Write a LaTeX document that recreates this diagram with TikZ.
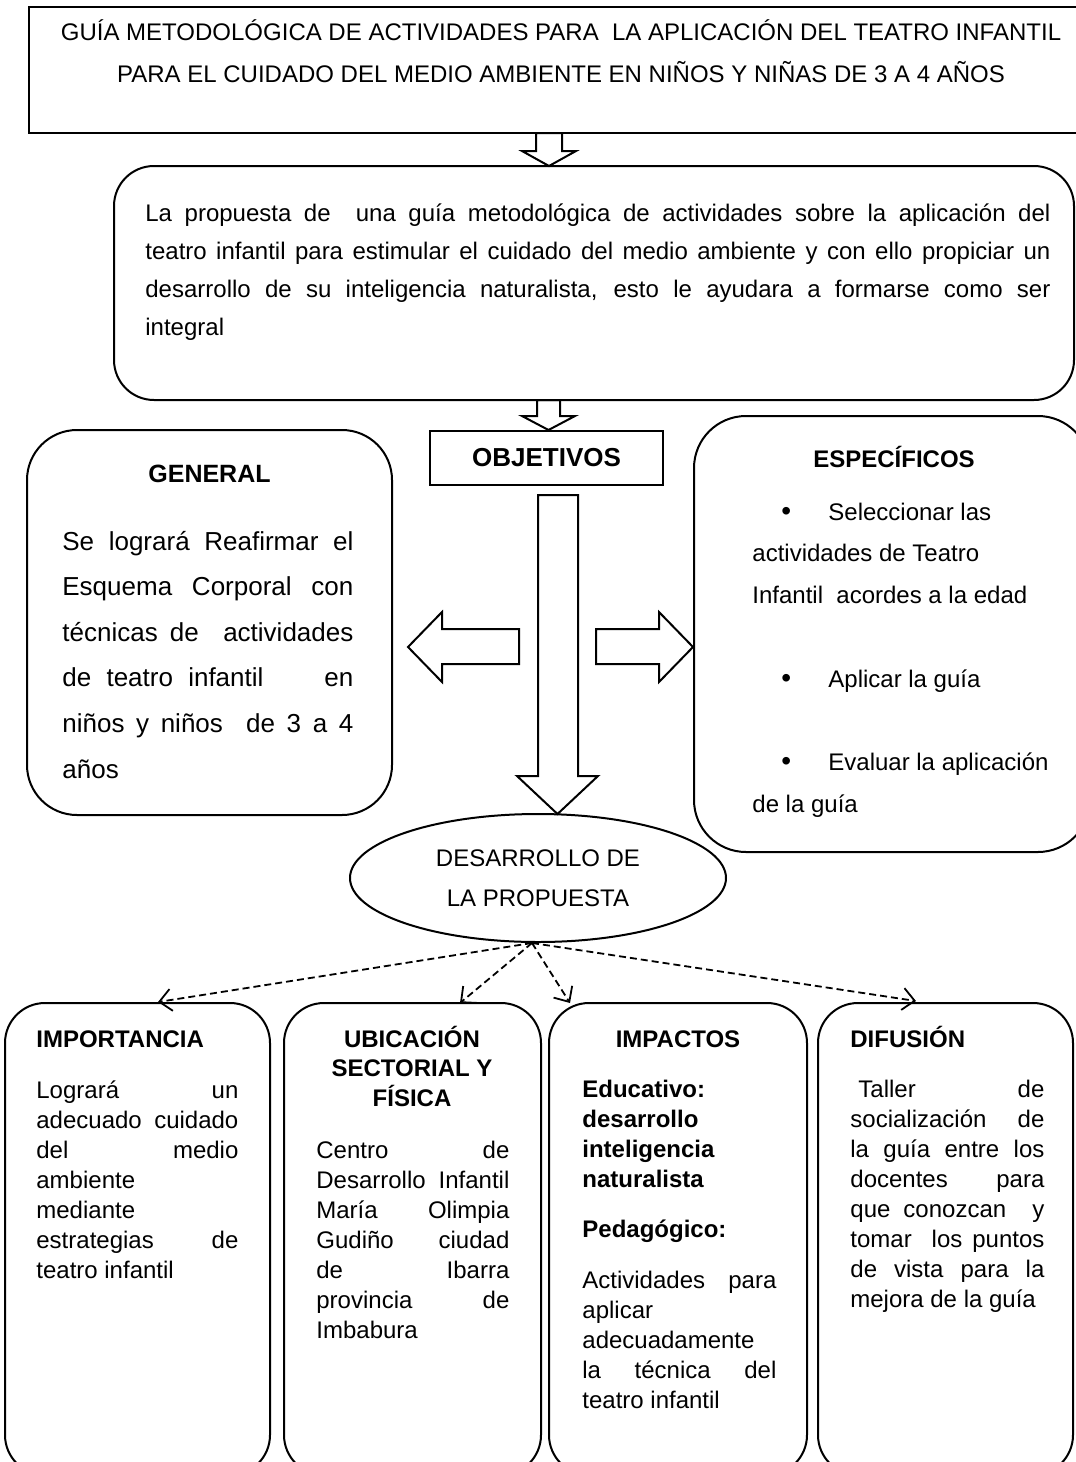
\documentclass[tikz,border=0pt]{standalone}
\usepackage{fontspec}
\setmainfont{Liberation Sans}
\usetikzlibrary{shapes.geometric,arrows.meta}
\newcommand\natsp{\spaceskip=\fontdimen2\font\relax\xspaceskip=\fontdimen2\font\relax}
\newcommand\jl[2]{\makebox[#1][s]{\spaceskip=0.278em plus 1fil\relax #2}}
\begin{document}
\begin{tikzpicture}[x=0.5pt,y=-0.5pt,
  box/.style={draw, line width=1pt, inner sep=0pt},
  rbox/.style={box, rounded corners=#1},
  blk/.style={draw, line width=1pt, line join=miter},
  txt/.style={anchor=base west, inner sep=0pt, align=left, font=\fontsize{12}{15}\selectfont},
  hd/.style={anchor=base, inner sep=0pt, font=\fontsize{12}{15}\selectfont\bfseries},
  dasharrow/.style={line width=0.9pt, dash pattern=on 3.5pt off 2pt, -{Straight Barb[length=6pt,width=11pt]}}]
\useasboundingbox (0,0) rectangle (1076,1462);
\clip (0,0) rectangle (1076,1462);

% ---------- title ----------
\node[box, line width=1.2pt, minimum width=535.5pt, minimum height=63pt] (title) at (564.5,70) {};
\node[anchor=base, inner sep=0pt, text width=525pt, align=center, font=\fontsize{12}{21}\selectfont] (titletxt) at (561,40)
  {\natsp GUÍA METODOLÓGICA DE ACTIVIDADES PARA\ \ LA APLICACIÓN DEL TEATRO INFANTIL\\
   PARA EL CUIDADO DEL MEDIO AMBIENTE EN NIÑOS Y NIÑAS DE 3 A 4 AÑOS};

% ---------- proposal ----------
\node[rbox=20pt, minimum width=480pt, minimum height=117pt] (prop) at (594,283) {};
\node[txt, text width=452.5pt, font=\fontsize{12}{19}\selectfont] (proptxt) at (145,221)
  {\natsp\jl{452.5pt}{La propuesta de\ \ una guía metodológica de actividades sobre la aplicación del}\\
   \jl{452.5pt}{teatro infantil para estimular el cuidado del medio ambiente y con ello propiciar un}\\
   \jl{452.5pt}{desarrollo de su inteligencia naturalista, esto le ayudara a formarse como ser}\\
   integral};

% ---------- block arrows ----------
\draw[blk] (536,133) -- (562,133) -- (562,151) -- (576,151) -- (549,166) -- (522,151) -- (536,151) -- cycle;
\draw[blk] (537,400) -- (560,400) -- (560,416) -- (575,416) -- (548.5,430) -- (522,416) -- (537,416) -- cycle;

% ---------- objetivos ----------
\node[box, minimum width=116.5pt, minimum height=27pt, font=\fontsize{13}{15}\selectfont\bfseries] (obj) at (546.5,458) {OBJETIVOS};

\draw[blk] (538,495) -- (578,495) -- (578,776) -- (598,776) -- (557.5,814) -- (517,776) -- (538,776) -- cycle;
\draw[blk] (519,629) -- (519,664) -- (442,664) -- (442,682) -- (408,647) -- (442,612) -- (442,629) -- cycle;
\draw[blk] (596,629) -- (596,664) -- (659,664) -- (659,682) -- (693,647) -- (659,612) -- (659,629) -- cycle;

% ---------- general ----------
\node[rbox=25pt, minimum width=182.5pt, minimum height=192.5pt] (gen) at (209.5,622.5) {};
\node[hd, font=\fontsize{12.5}{15}\selectfont\bfseries] (genh) at (209.5,482) {GENERAL};
\node[txt, text width=145.5pt, font=\fontsize{13}{22.8}\selectfont] (gentxt) at (62,550)
  {\natsp\jl{145.5pt}{Se logrará Reafirmar el}\\
   \jl{145.5pt}{Esquema Corporal con}\\
   \jl{145.5pt}{técnicas de\ \ actividades}\\
   \jl{145.5pt}{de teatro infantil\ \ \ \ en}\\
   \jl{145.5pt}{niños y niños\ \ de 3 a 4}\\
   años};

% ---------- especificos ----------
\node[rbox=26pt, minimum width=198pt, minimum height=218pt] (esp) at (892,634) {};
\node[hd] (esph) at (894,467) {ESPECÍFICOS};
\node[txt, text width=160pt, font=\fontsize{12}{20.9}\selectfont] (esptxt) at (752,520)
  {\natsp\makebox[38pt][l]{\hspace*{14.5pt}{\fontsize{14}{15}\selectfont\textbullet}}Seleccionar las\\
   actividades de Teatro\\
   Infantil\ \ acordes a la edad\\[20.9pt]
   \makebox[38pt][l]{\hspace*{14.5pt}{\fontsize{14}{15}\selectfont\textbullet}}Aplicar la guía\\[20.9pt]
   \makebox[38pt][l]{\hspace*{14.5pt}{\fontsize{14}{15}\selectfont\textbullet}}Evaluar la aplicación\\
   de la guía};

% ---------- ellipse ----------
\node[draw, ellipse, line width=1pt, minimum width=188pt, minimum height=64pt, inner sep=0pt,
      align=center, font=\fontsize{12}{20}\selectfont] (ell) at (538,878) {\natsp DESARROLLO DE\\LA PROPUESTA};

% ---------- bottom boxes ----------
\node[rbox=20pt, minimum width=132.5pt, minimum height=236pt] (b1) at (137.5,1239) {};
\node[rbox=20pt, minimum width=128.5pt, minimum height=236pt] (b2) at (412.5,1239) {};
\node[rbox=20pt, minimum width=129pt, minimum height=236pt] (b3) at (678,1239) {};
\node[rbox=20pt, minimum width=127.5pt, minimum height=236pt] (b4) at (945.5,1239) {};

\node[hd, anchor=base west] (b1h) at (36,1047) {IMPORTANCIA};
\node[txt, text width=101pt] (b1t) at (36,1098)
  {\natsp\jl{101pt}{Logrará un}\\
   \jl{101pt}{adecuado cuidado}\\
   \jl{101pt}{del medio}\\
   ambiente\\
   mediante\\
   \jl{101pt}{estrategias de}\\
   teatro infantil};

\node[hd, text width=120pt, align=center, font=\fontsize{12}{14.8}\selectfont\bfseries] (b2h) at (412,1047)
  {\natsp UBICACIÓN\\SECTORIAL Y\\FÍSICA};
\node[txt, text width=96.5pt] (b2t) at (316,1158)
  {\natsp\jl{96.5pt}{Centro de}\\
   \jl{96.5pt}{Desarrollo Infantil}\\
   \jl{96.5pt}{María Olimpia}\\
   \jl{96.5pt}{Gudiño ciudad}\\
   \jl{96.5pt}{de Ibarra}\\
   \jl{96.5pt}{provincia de}\\
   Imbabura};

\node[hd] (b3h) at (678,1047) {IMPACTOS};
\node[txt, text width=97pt] (b3t) at (582,1097)
  {\natsp\textbf{Educativo:}\\
   \textbf{desarrollo}\\
   \textbf{inteligencia}\\
   \textbf{naturalista}\\[10pt]
   \textbf{Pedagógico:}\\[10.5pt]
   \jl{97pt}{Actividades para}\\
   aplicar\\
   adecuadamente\\
   \jl{97pt}{la técnica del}\\
   teatro infantil};

\node[hd, anchor=base west] (b4h) at (850,1047) {DIFUSIÓN};
\node[txt, text width=97pt] (b4t) at (850,1097)
  {\natsp\jl{97pt}{\hspace*{4pt}Taller de}\\
   \jl{97pt}{socialización de}\\
   \jl{97pt}{la guía entre los}\\
   \jl{97pt}{docentes para}\\
   \jl{97pt}{que conozcan\ \ y}\\
   \jl{97pt}{tomar\ \ los puntos}\\
   \jl{97pt}{de vista para la}\\
   mejora de la guía};

% ---------- dashed connectors ----------
\coordinate (t1) at (158,1002);
\coordinate (t2) at (460,1003);
\coordinate (t3) at (570,1003);
\coordinate (t4) at (916,1001);
\draw[dasharrow] ([xshift=-3pt]ell.south) -- (t1);
\draw[dasharrow] ([xshift=-3pt]ell.south) -- (t2);
\draw[dasharrow] ([xshift=-3pt]ell.south) -- (t3);
\draw[dasharrow] ([xshift=-3pt]ell.south) -- (t4);
\end{tikzpicture}
\end{document}
